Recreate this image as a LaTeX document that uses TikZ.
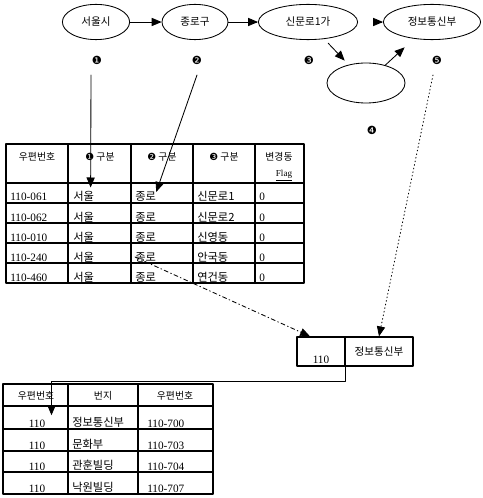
\documentclass[tikz,border=0pt]{standalone}
\usepackage{fontspec}
\setmainfont{Liberation Serif}
\newfontfamily\kor{Noto Sans CJK KR}
\newfontfamily\sym{DejaVu Sans}
\usetikzlibrary{arrows,shapes.geometric,calc}
\tikzset{
  place/.style={draw,ellipse,line width=0.6pt,minimum height=0.88cm,inner sep=0pt,font=\kor\fontsize{7.5}{9}\selectfont},
  numdot/.style={inner sep=0pt,font=\sym\fontsize{8}{8}\selectfont},
  tbl/.style={line width=0.9pt},
  cell/.style={anchor=base west,inner sep=0pt,font=\kor\fontsize{8}{9}\selectfont},
  head/.style={inner sep=0pt,font=\kor\fontsize{7}{9}\selectfont},
  link/.style={line width=0.6pt,->}
}

\begin{document}
\begin{tikzpicture}[line cap=round,line join=round,>=triangle 45,x=0.025cm,y=-0.025cm]
\useasboundingbox (0,0) rectangle (482,498);
% chain of places
\node[place,minimum width=1.68cm] (seoul) at (96,22) {서울시};
\node[place,minimum width=1.65cm] (jongno) at (195,22) {종로구};
\node[place,minimum width=2.48cm] (sinmun) at (308,22) {신문로1가};
\node[place,minimum width=1.95cm,minimum height=1.0cm] (blank) at (366,83) {};
\node[place,minimum width=2.43cm] (jeongbo) at (432,22) {정보통신부};
\draw[link] (seoul) -- (jongno);
\draw[link] (jongno) -- (sinmun);
\draw[link,shorten <=4pt,shorten >=4pt] (sinmun) -- (blank);
\draw[link,shorten >=9pt] (blank) -- (jeongbo);
\draw[link] ($(jeongbo.west)+(-4,0)$) -- (jeongbo.west);
% numbers
\node[numdot] (m1) at (97,60) {❶};
\node[numdot] (m2) at (197,60) {❷};
\node[numdot] (m3) at (309,60) {❸};
\node[numdot] (m4) at (372,130) {❹};
\node[numdot] (m5) at (437,60) {❺};

% first table
\draw[tbl] (6,144) rectangle (304,283);
\foreach \x in {68,131,193,255}
\draw[tbl] (\x,144) -- (\x,283);
\foreach \y in {183,203,223,243,263}
\draw[tbl] (6,\y) -- (304,\y);
\node[head] (h1) at (37,157) {우편번호};
\node[head] (h2) at (100,157) {{\sym ❶} 구분};
\node[head] (h3) at (162,157) {{\sym ❷} 구분};
\node[head] (h4) at (224,157) {{\sym ❸} 구분};
\node[head] (h5) at (279,157) {변경동};
\node[inner sep=0pt,font=\fontsize{6.5}{7}\selectfont] (hf) at (284,176) {\underline{Flag}};
\foreach \code/\dong/\yb [count=\i] in {110-061/신문로1/203,110-062/신문로2/223,110-010/신영동/243,110-240/안국동/263,110-460/연건동/283}{
  \node[cell,font=\fontsize{8}{9}\selectfont] (c\i-1) at (10,\yb-2) {\code};
  \node[cell] (c\i-2) at (73,\yb-2) {서울};
  \node[cell] (c\i-3) at (135,\yb-2) {종로};
  \node[cell] (c\i-4) at (197,\yb-2) {\dong};
  \node[cell,font=\fontsize{8}{9}\selectfont] (c\i-5) at (259,\yb-2) {0};
}

% small box
\node[draw,tbl,minimum width=1.2cm,minimum height=0.725cm,inner sep=0pt] (zc1) at (321,351.5) {};
\node[cell,anchor=base,font=\fontsize{8}{9}\selectfont] (zc1t) at (321,363) {\underline{110}};
\node[draw,tbl,minimum width=1.7cm,minimum height=0.725cm,inner sep=0pt,font=\kor\fontsize{7.5}{9}\selectfont] (zc2) at (379,351.5) {정보통신부};

% second table
\draw[tbl] (3,384) rectangle (213,494);
\foreach \x in {68,138}
\draw[tbl] (\x,384) -- (\x,494);
\foreach \y in {406,429,451,472}
\draw[tbl] (3,\y) -- (213,\y);
\node[head] (g1) at (36,396) {우편번호};
\node[head] (g2) at (103,396) {번지};
\node[head] (g3) at (175,396) {우편번호};
\foreach \bldg/\code/\yb [count=\i] in {정보통신부/110-700/429,문화부/110-703/451,관훈빌딩/110-704/472,낙원빌딩/110-707/494}{
  \node[cell,anchor=base,font=\fontsize{8}{9}\selectfont] (b\i-1) at (37,\yb-2) {110};
  \node[cell] (b\i-2) at (72,\yb-3) {\bldg};
  \node[cell,font=\fontsize{8}{9}\selectfont] (b\i-3) at (147,\yb-2) {\code};
}

% links
\draw[link] (m1) ++(-6,15) -- ($(c1-2.north)+(7,-4)$);
\draw[link] (m2) ++(0,15) -- (c1-3.north east);
\draw[link,dotted] (m5) ++(-4,15) -- (zc2.north);
\draw[link,dash pattern=on 3pt off 2pt on 0.6pt off 2pt] (c4-3.west) -- ($(zc1.north)+(-11,0)$);
\draw[link] (zc1.south east) -- ++(0,15) -| ($(b1-1.north east)+(6,-4)$);
\end{tikzpicture}
\end{document}
